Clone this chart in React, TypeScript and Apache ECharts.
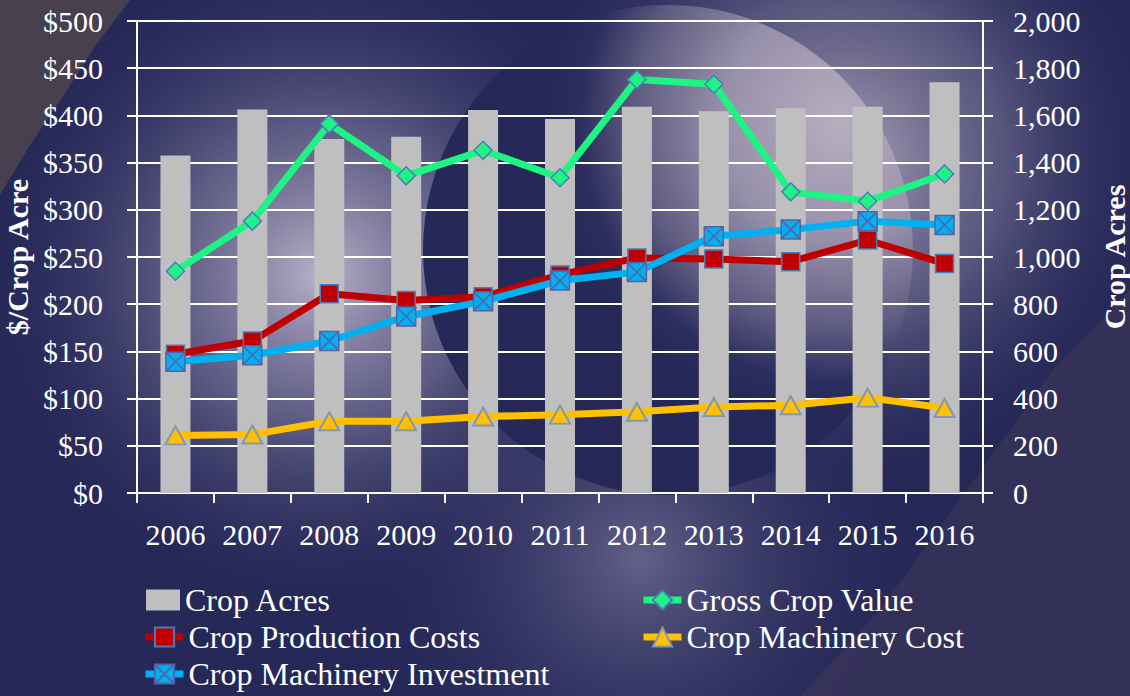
import React, { useEffect, useRef } from "react";
import * as echarts from "echarts";

const years = ["2006", "2007", "2008", "2009", "2010", "2011", "2012", "2013", "2014", "2015", "2016"];
const cropAcres = [1430, 1625, 1500, 1510, 1623, 1585, 1637, 1618, 1630, 1637, 1740];
const grossCropValue = [235, 288, 391, 336, 363, 334, 438, 433, 319, 309, 338];
const productionCosts = [147, 161, 211, 204, 208, 231, 249, 248, 245, 268, 243];
const machineryCost = [61, 62, 76, 76, 81, 83, 86, 91, 93, 101, 90];
const machineryInvestment = [139, 146, 161, 187, 203, 225, 234, 272, 279, 288, 284];

const FONT = "'Liberation Serif', 'Times New Roman', serif";
const NAVY = "#262858";

const xSquarePath = "path://M0,0L10,0L10,10L0,10Z M0,0L10,10 M10,0L0,10";

export default function App() {
  const ref = useRef<HTMLDivElement>(null);

  useEffect(() => {
    document.body.style.margin = "0";
    const chart = echarts.init(ref.current!, null, { renderer: "svg" });

    const rg = (x: number, y: number, r: number, stops: [number, string][]) =>
      new echarts.graphic.RadialGradient(
        x,
        y,
        r,
        stops.map(([offset, color]) => ({ offset, color }))
      );

    const lineSeries = (
      name: string,
      data: number[],
      color: string,
      symbol: string,
      symbolSize: number | number[],
      borderColor: string,
      borderWidth: number
    ) => ({
      name,
      type: "line",
      yAxisIndex: 0,
      data,
      symbol,
      symbolSize,
      lineStyle: { color, width: 7 },
      itemStyle: { color, borderColor, borderWidth },
    });

    const legendItem = (name: string, left: number, centerY: number, isBar = false) => ({
      orient: "horizontal",
      left: isBar ? left + 4 : left,
      top: centerY - 16,
      padding: 0,
      itemWidth: isBar ? 34 : 38,
      itemHeight: isBar ? 21 : 24,
      lineStyle: { width: 7 },
      textStyle: { color: "#fff", fontSize: 32, fontFamily: FONT, lineHeight: 32 },
      data: [isBar ? { name, icon: "rect" } : name],
    });

    chart.setOption({
      animation: false,
      backgroundColor: NAVY,
      graphic: [
        {
          type: "circle",
          z: -10,
          silent: true,
          shape: { cx: 320, cy: 275, r: 340 },
          style: {
            fill: rg(0.5, 0.5, 0.5, [
              [0, "rgba(205,195,215,0.88)"],
              [0.45, "rgba(135,130,165,0.55)"],
              [1, "rgba(38,40,88,0)"],
            ]),
          },
        },
        {
          type: "circle",
          z: -10,
          silent: true,
          shape: { cx: 640, cy: 560, r: 280 },
          style: {
            fill: rg(0.5, 0.5, 0.5, [
              [0, "rgba(140,135,170,0.6)"],
              [1, "rgba(38,40,88,0)"],
            ]),
          },
        },
        {
          type: "circle",
          z: -10,
          silent: true,
          shape: { cx: 840, cy: 160, r: 330 },
          style: {
            fill: rg(0.5, 0.5, 0.5, [
              [0, "rgba(185,175,195,0.9)"],
              [0.5, "rgba(120,115,150,0.6)"],
              [1, "rgba(38,40,88,0)"],
            ]),
          },
        },
        {
          type: "circle",
          z: -10,
          silent: true,
          shape: { cx: 668, cy: 250, r: 245 },
          style: {
            fill: rg(0.85, 0.24, 0.6, [
              [0, "#b8aec0"],
              [0.4, "#9790aa"],
              [0.7, "#5e5b80"],
              [0.88, "#2c2e5e"],
              [1, "#262858"],
            ]),
          },
        },
        {
          type: "polygon",
          z: -10,
          silent: true,
          shape: {
            points: [
              [0, 0],
              [130, 0],
              [96, 45],
              [62, 98],
              [30, 145],
              [0, 195],
            ],
          },
          style: { fill: "#48404f" },
        },
        {
          type: "polygon",
          z: -10,
          silent: true,
          shape: {
            points: [
              [1130, 290],
              [1053, 370],
              [880, 610],
              [800, 696],
              [1130, 696],
            ],
          },
          style: { fill: "rgba(70,60,90,0.45)" },
        },
      ],
      grid: { left: 137, right: 147, top: 21, bottom: 203, outerBoundsMode: "none", containLabel: false },
      legend: [
        legendItem("Crop Acres", 142, 600, true),
        legendItem("Gross Crop Value", 640, 600),
        legendItem("Crop Production Costs", 142, 637),
        legendItem("Crop Machinery Cost", 640, 637),
        legendItem("Crop Machinery Investment", 142, 674),
      ],
      xAxis: {
        type: "category",
        data: years,
        boundaryGap: true,
        axisLine: { lineStyle: { color: "#fff", width: 2 } },
        axisTick: { show: true, length: 10, interval: 0, lineStyle: { color: "#fff", width: 2 } },
        axisLabel: { color: "#fff", fontSize: 30, fontFamily: FONT, margin: 26, interval: 0 },
      },
      yAxis: [
        {
          type: "value",
          min: 0,
          max: 500,
          interval: 50,
          name: "$/Crop Acre",
          nameLocation: "middle",
          nameRotate: 90,
          nameGap: 104,
          nameTextStyle: { color: "#fff", fontSize: 30, fontWeight: "bold", fontFamily: FONT },
          axisLine: { show: true, lineStyle: { color: "#fff", width: 2 } },
          axisTick: { show: true, length: 10, lineStyle: { color: "#fff", width: 2 } },
          axisLabel: {
            color: "#fff",
            fontSize: 30,
            fontFamily: FONT,
            margin: 34,
            formatter: (v: number) => "$" + v,
          },
          splitLine: { show: true, lineStyle: { color: "#fff", width: 2 } },
        },
        {
          type: "value",
          min: 0,
          max: 2000,
          interval: 200,
          name: "Crop Acres",
          nameLocation: "middle",
          nameRotate: 90,
          nameGap: 116,
          nameTextStyle: { color: "#fff", fontSize: 30, fontWeight: "bold", fontFamily: FONT },
          axisLine: { show: true, lineStyle: { color: "#fff", width: 2 } },
          axisTick: { show: true, length: 10, lineStyle: { color: "#fff", width: 2 } },
          axisLabel: {
            color: "#fff",
            fontSize: 30,
            fontFamily: FONT,
            margin: 30,
            formatter: (v: number) => v.toLocaleString("en-US"),
          },
          splitLine: { show: false },
        },
      ],
      series: [
        {
          name: "Crop Acres",
          type: "bar",
          yAxisIndex: 1,
          data: cropAcres,
          barWidth: 30,
          itemStyle: { color: "#BFBFBF" },
        },
        lineSeries("Gross Crop Value", grossCropValue, "#1EF484", "diamond", 18, "#4a7ebb", 1.5),
        lineSeries("Crop Production Costs", productionCosts, "#C00000", "rect", 18, "#4a7ebb", 1.5),
        lineSeries("Crop Machinery Cost", machineryCost, "#FFC000", "triangle", [20, 18], "#8497b0", 2),
        lineSeries("Crop Machinery Investment", machineryInvestment, "#00B0F0", xSquarePath, 19, "#5661aa", 1.5),
      ],
    });

    return () => chart.dispose();
  }, []);

  return (
    <div
      ref={ref}
      style={{ position: "fixed", left: 0, top: 0, width: 1130, height: 696 }}
    />
  );
}
